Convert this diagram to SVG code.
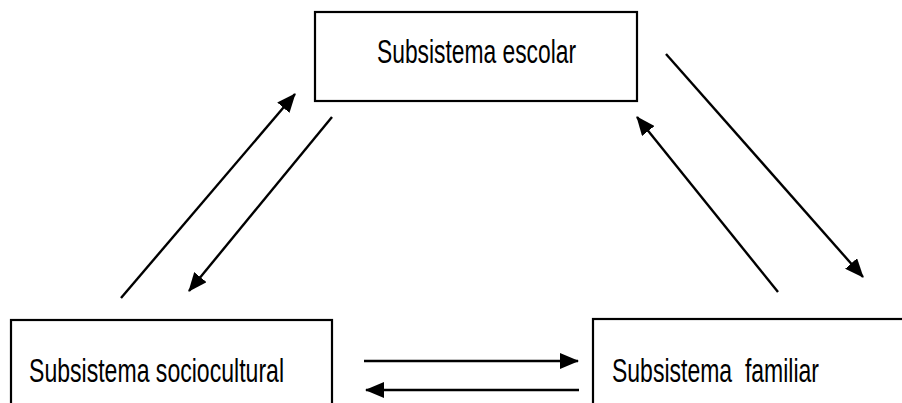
<svg xmlns="http://www.w3.org/2000/svg" width="902" height="403" viewBox="0 0 902 403">
<style>
.box{fill:#fff;stroke:#000;stroke-width:2.2}
.lbl{font-family:"Liberation Sans",Arial,sans-serif;font-size:33px;fill:#000}
.arr{stroke:#000;stroke-width:2.4;fill:none;marker-end:url(#ah)}
</style>
<defs>
<marker id="ah" markerUnits="userSpaceOnUse" markerWidth="20" markerHeight="16" refX="18" refY="8" orient="auto">
<path d="M0,0 L19,8 L0,16 Z" fill="#000"/>
</marker>
</defs>
<rect width="902" height="403" fill="#fff"/>
<g id="escolar">
<rect class="box" x="315" y="12" width="322" height="89"/>
<text class="lbl" x="377" y="63" textLength="199" lengthAdjust="spacingAndGlyphs">Subsistema escolar</text>
</g>
<g id="sociocultural">
<rect class="box" x="11" y="320" width="321" height="100"/>
<text class="lbl" x="29" y="382" textLength="255" lengthAdjust="spacingAndGlyphs">Subsistema sociocultural</text>
</g>
<g id="familiar">
<rect class="box" x="593" y="319" width="330" height="100"/>
<text class="lbl" x="612" y="382" textLength="207" lengthAdjust="spacingAndGlyphs" xml:space="preserve">Subsistema  familiar</text>
</g>
<g id="connectors">
<line class="arr" x1="121" y1="298" x2="295" y2="94"/>
<line class="arr" x1="332" y1="117" x2="189" y2="291"/>
<line class="arr" x1="666" y1="54" x2="863" y2="277"/>
<line class="arr" x1="778" y1="292" x2="637" y2="117"/>
<line class="arr" x1="364" y1="361" x2="578" y2="361"/>
<line class="arr" x1="579" y1="390" x2="366" y2="390"/>
</g>
</svg>
